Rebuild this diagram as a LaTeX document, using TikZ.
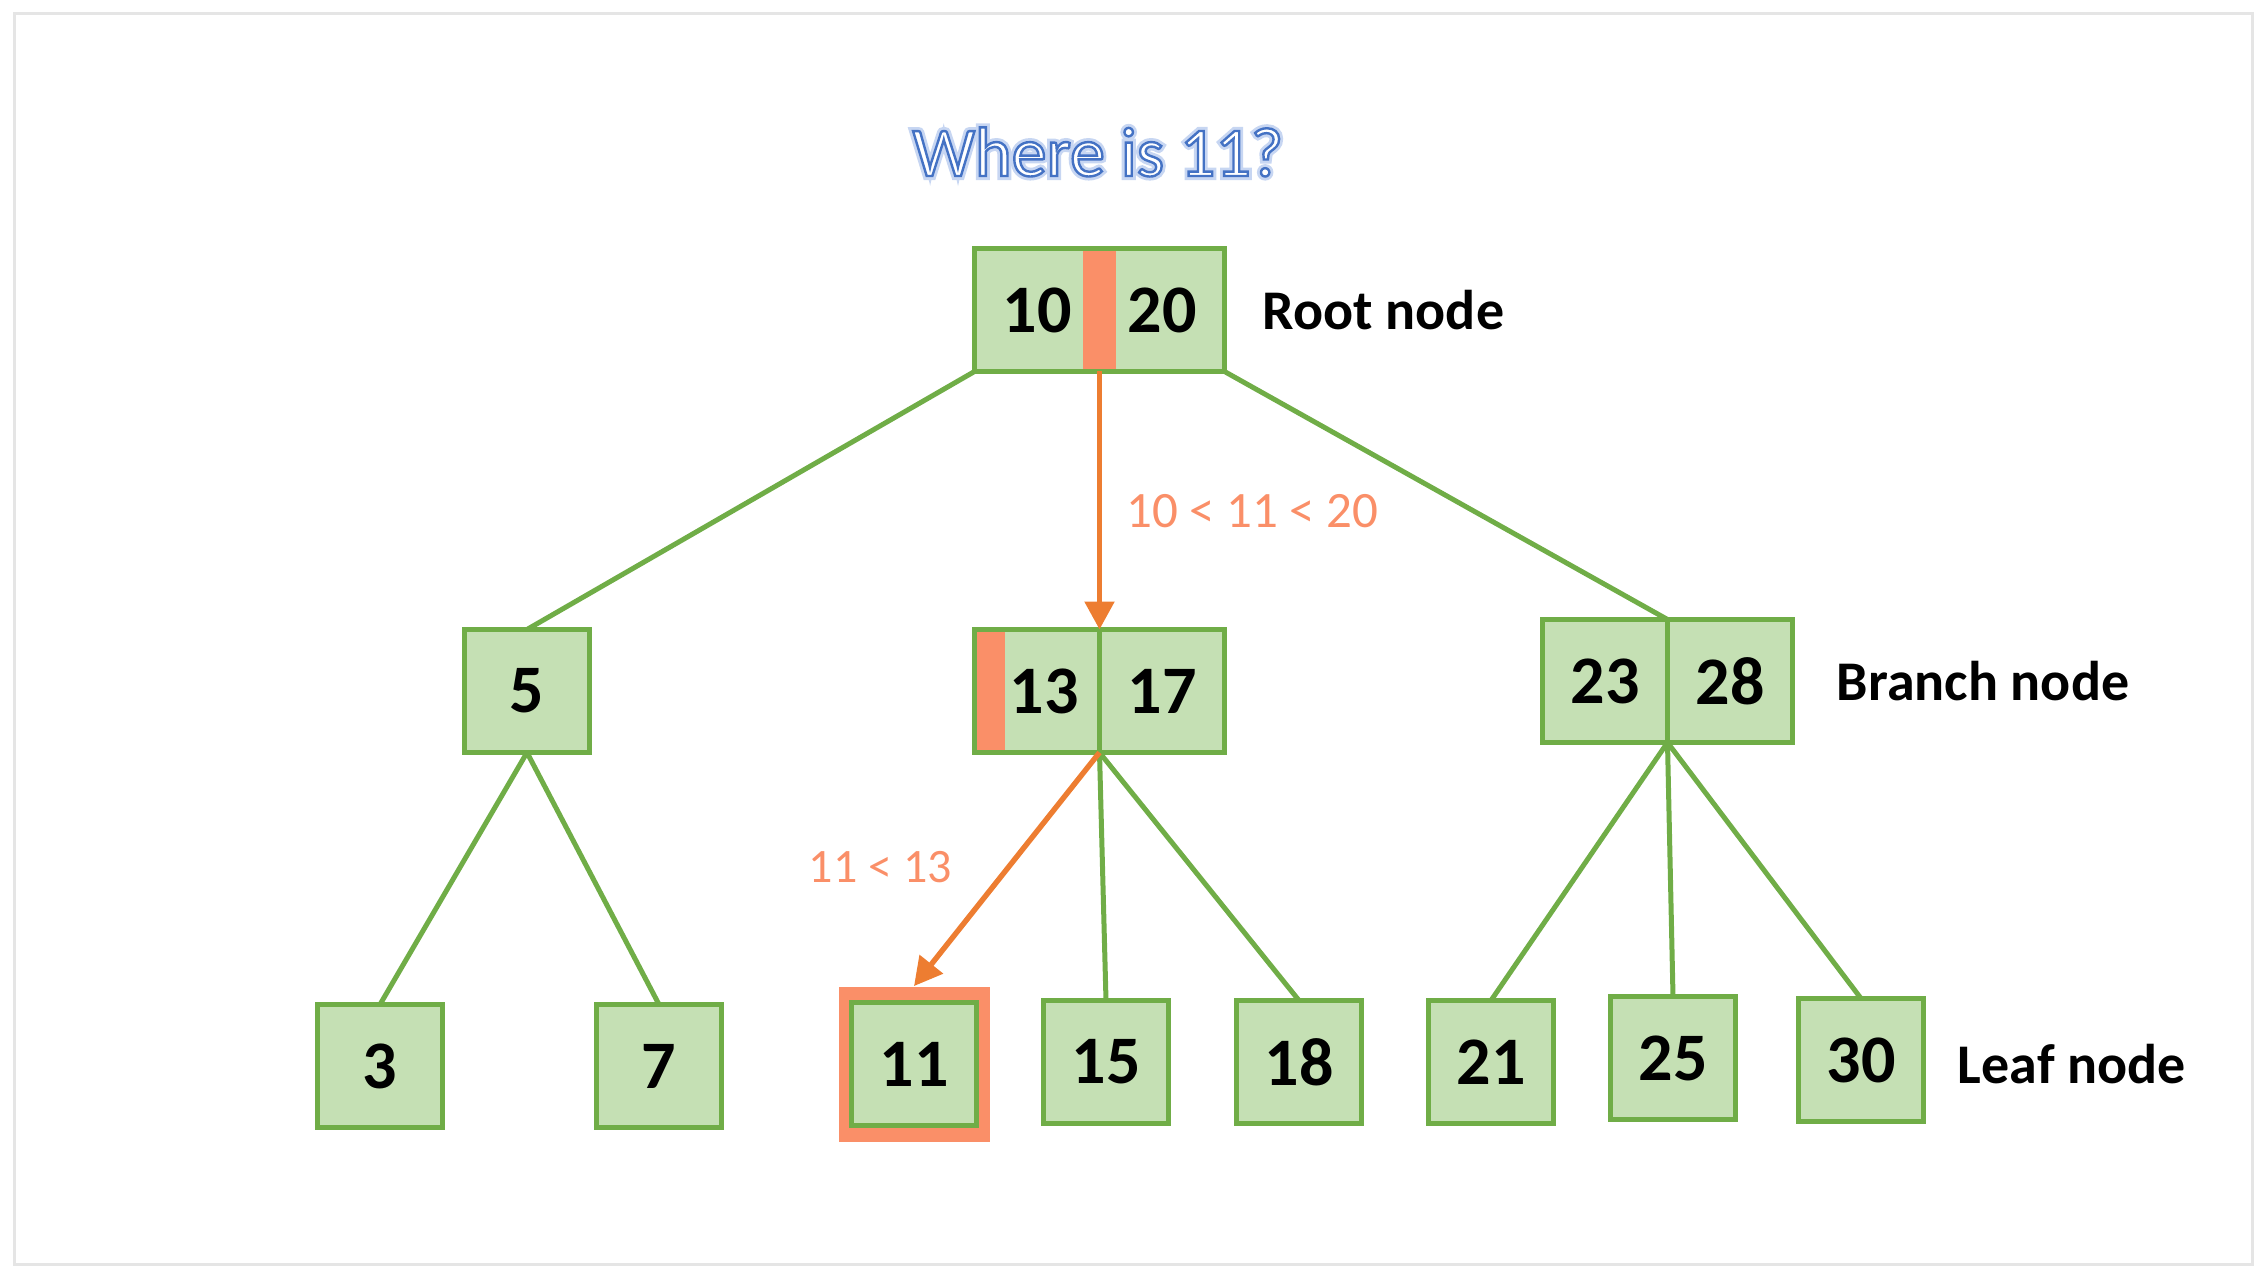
\documentclass[tikz,border=0pt]{standalone}
\usepackage{fontspec}
\setmainfont{Carlito}
\usetikzlibrary{arrows.meta, calc, positioning, backgrounds, fit}
\definecolor{fuell}{HTML}{C5E0B4}
\definecolor{rand}{HTML}{70AD47}
\definecolor{markiert}{HTML}{FA8F68}
\definecolor{pfeil}{HTML}{ED7D31}

\begin{document}
\begin{tikzpicture}[
    x=0.5pt, y=-0.5pt,
    schluessel/.style={draw=rand, fill=fuell, line width=2.85pt, outer sep=0pt,
      inner sep=0pt, minimum width=62.5pt, minimum height=61.5pt,
      font=\fontsize{34}{40}\selectfont\bfseries},
    kante/.style={rand, line width=2.5pt},
    suchpfeil/.style={pfeil, line width=2.7pt, -{Triangle[length=14pt, width=14.5pt]}},
    vergleich/.style={text=markiert, inner sep=0pt, font=\fontsize{25.5}{30}\selectfont},
    ebene/.style={inner sep=0pt, font=\fontsize{28}{33}\selectfont\bfseries},
  ]
  \useasboundingbox (0,0) rectangle (2266,1278);
  \draw[black!10, line width=1.5pt] (14,14) rectangle (2252,1264);

  % Titel (Umrissschrift mit Schein)
  \node (schein) at (1098,152) {\fontsize{35}{40}\selectfont\textcolor{white}{%
    \special{pdf:literal direct 1 Tr 4 w 0.78 0.84 0.95 RG}Where is 11?%
    \special{pdf:literal direct 0 Tr}}};
  \node (titel) at (1098,152) {\fontsize{35}{40}\selectfont\textcolor{white}{%
    \special{pdf:literal direct 2 Tr 1.2 w 0.267 0.447 0.769 RG}Where is 11?%
    \special{pdf:literal direct 0 Tr}}};

  % Wurzel
  \node[schluessel] (r10) at (1037,310) {10};
  \node[schluessel, right=0pt of r10] (r20) {20};
  \fill[markiert] ([xshift=-8.25pt, yshift=-1.4pt]r10.north east)
    rectangle ([xshift=8.25pt, yshift=1.4pt]r10.south east);

  % Zweige
  \node[schluessel] (n5) at (527,691) {5};
  \node[schluessel] (n13) at (1037,691) {\hspace*{7pt}13};
  \node[schluessel, right=0pt of n13] (n17) {17};
  \fill[markiert] ([xshift=1.4pt, yshift=-1.4pt]n13.north west)
    rectangle ([xshift=15pt, yshift=1.4pt]n13.south west);
  \node[schluessel] (n23) at (1605,681) {23};
  \node[schluessel, right=0pt of n23] (n28) {28};

  % Blaetter
  \foreach \name/\x/\y in {3/380/1066, 7/659/1066, 11/914/1064, 15/1106/1062,
                           18/1299/1062, 21/1491/1062, 25/1673/1058, 30/1861/1060}
    \node[schluessel] (l\name) at (\x,\y) {\name};
  \begin{scope}[on background layer]
    \node[fill=markiert, inner xsep=6.5pt, inner ysep=8pt, fit=(l11)] (h11) {};
  \end{scope}

  % Kanten
  \draw[kante] (r10.south west) -- (n5.north);
  \draw[kante] (r20.south east) -- (n28.north west);
  \foreach \ziel in {l3, l7}
    \draw[kante] (n5.south) -- (\ziel.north);
  \foreach \ziel in {l15, l18}
    \draw[kante] (n13.south east) -- (\ziel.north);
  \foreach \ziel in {l21, l25, l30}
    \draw[kante] (n23.south east) -- (\ziel.north);

  % Suchweg
  \draw[suchpfeil] (r10.south east) --
    node[vergleich, pos=0.54, right=12pt] {10 < 11 < 20} (n13.north east);
  \draw[suchpfeil] (n13.south east) --
    node[vergleich, pos=0.49, left=27pt, font=\fontsize{24}{28}\selectfont] {11 < 13} (h11.north);

  % Ebenen
  \node[ebene, right=19pt of r20] (wurzel) {Root node};
  \node[ebene, right=22pt of n28] (zweig) {Branch node};
  \node[ebene, right=17pt of l30, yshift=-2pt] (blatt) {Leaf node};
\end{tikzpicture}
\end{document}
